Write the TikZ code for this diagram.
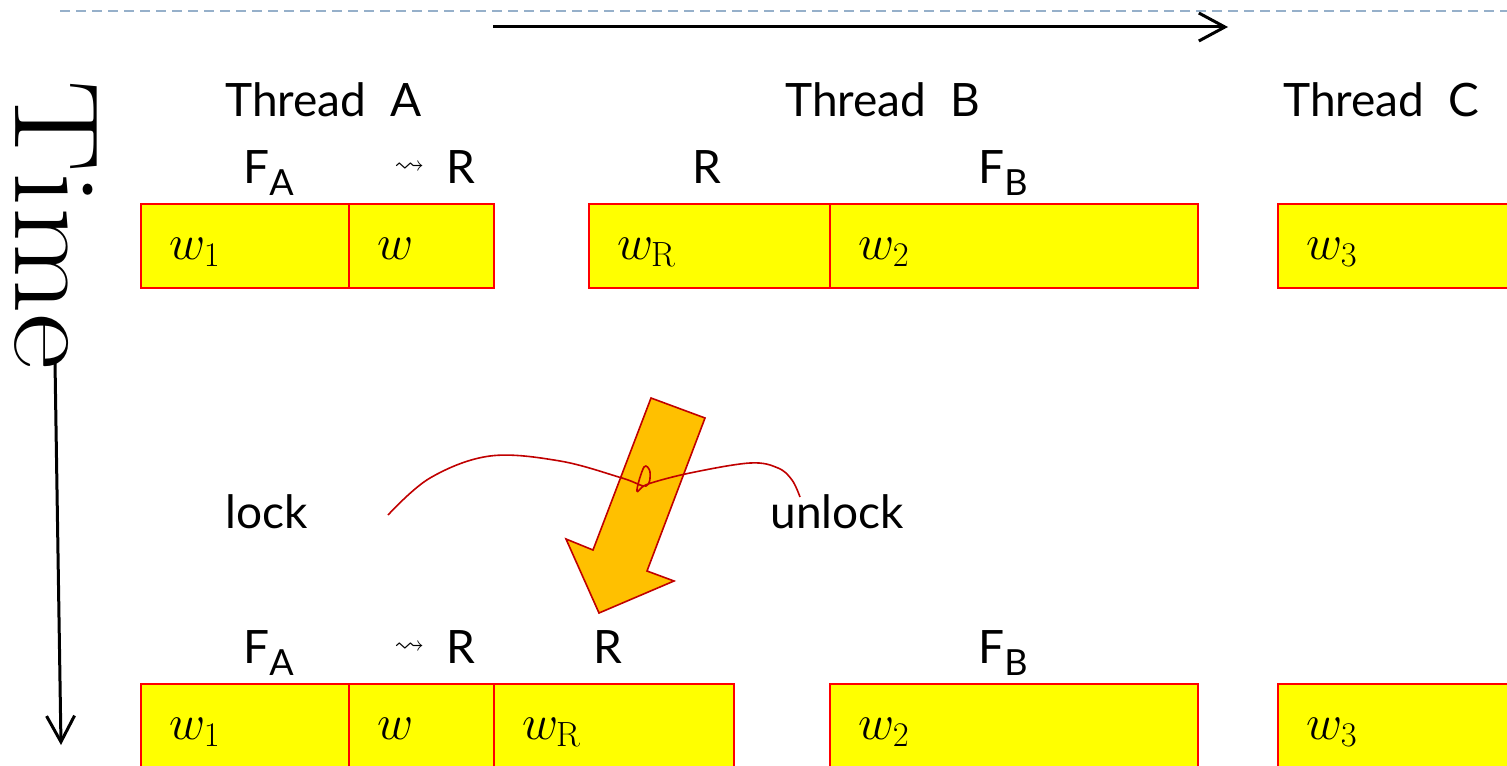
\documentclass[tikz,border=0pt]{standalone}
\usepackage{fontspec}
\usepackage{amssymb}
\usetikzlibrary{arrows.meta}
\newfontfamily\slidefont{Lato}
\definecolor{slideyellow}{RGB}{255,255,0}
\definecolor{slidered}{RGB}{255,0,0}
\definecolor{lockorange}{RGB}{255,192,0}
\definecolor{lockred}{RGB}{192,0,0}
\definecolor{ruleblue}{RGB}{150,176,202}
\newcommand{\wiggle}{\raisebox{5pt}{\fontsize{15}{16}\selectfont$\rightsquigarrow$}\hspace{11pt}}
\newcommand{\subA}[2]{#1\raisebox{-6pt}{\fontsize{18}{20}\selectfont #2}}
\tikzset{
  wbox/.style={draw=slidered, fill=slideyellow, line width=1pt, anchor=north west,
               minimum height=42pt, inner xsep=14pt, text width=#1, align=left,
               text height=16pt, text depth=3pt, font=\fontsize{25}{30}\selectfont},
  lbl/.style={anchor=base west, inner sep=0pt, font=\slidefont\fontsize{23}{28}\selectfont},
  timearrow/.style={line width=1.5pt, -{Straight Barb[length=13pt,width=14pt]}},
  lockarrow/.style={draw=lockred, fill=lockorange, line width=0.8pt, line join=miter},
  lockline/.style={draw=lockred, line width=0.8pt},
}
\begin{document}
\begin{tikzpicture}[x=0.5pt, y=-0.5pt]
  \useasboundingbox (0,0) rectangle (1507,765);
  % slide rule and time axes
  \draw[ruleblue, line width=1pt, dash pattern=on 5pt off 3pt] (60,11) -- (1507,11);
  \coordinate (xstart) at (493,27);
  \coordinate (xend) at (1228,27);
  \draw[timearrow] (xstart) -- (xend);
  \node[rotate=-90, anchor=base west, inner sep=0pt, font=\fontsize{69}{72}\selectfont] (time) at (15,80) {\scalebox{1}[0.87]{Time}};
  \coordinate (yend) at (61,745);
  \draw[timearrow] (55,362) -- (yend);

  % thread names
  \node[lbl] (thra) at (225,117) {Thread\ \ A};
  \node[lbl] (thrb) at (785,117) {Thread\ \ B};
  \node[lbl] (thrc) at (1283,117) {Thread\ \ C};

  % before
  \node[lbl] (fa1) at (243,183) {\subA{F}{A}};
  \node[lbl] (ra1) at (394,183) {\wiggle R};
  \node[lbl] (rb1) at (692,183) {R};
  \node[lbl] (fb1) at (978,183) {\subA{F}{B}};
  \node[wbox=76pt] (ta1) at (140,203) {$w_1$};
  \node[wbox=44.5pt] (ta2) at (348,203) {$w$};
  \node[wbox=92.5pt] (tb1) at (588,203) {$w_{\mathrm{R}}$};
  \node[wbox=156pt] (tb2) at (829,203) {$w_2$};
  \node[wbox=92pt] (tc1) at (1277,203) {$w_3$};

  % lock / unlock
  \node[lbl] (lock) at (225,528) {lock};
  \node[lbl] (unlock) at (770,528) {unlock};
  \draw[lockarrow] (651,398) -- (705,418) -- (647,571) -- (674,581) -- (599,613) -- (566,539) -- (593,550) -- cycle;
  \draw[lockline] plot[smooth, tension=0.6] coordinates {(388,515) (430,478) (490,456) (560,461) (622,478)
    (646,486) (650,472) (644,467) (637,491) (648,484) (690,473) (750,463) (778,468) (792,480) (800,497)};

  % after
  \node[lbl] (fa2) at (243,663) {\subA{F}{A}};
  \node[lbl] (ra2) at (394,663) {\wiggle R};
  \node[lbl] (rb2) at (593,663) {R};
  \node[lbl] (fb2) at (978,663) {\subA{F}{B}};
  \node[wbox=76pt] (ta3) at (140,683) {$w_1$};
  \node[wbox=44.5pt] (ta4) at (348,683) {$w$};
  \node[wbox=92pt] (ta5) at (493,683) {$w_{\mathrm{R}}$};
  \node[wbox=156pt] (tb3) at (829,683) {$w_2$};
  \node[wbox=92pt] (tc2) at (1277,683) {$w_3$};
\end{tikzpicture}
\end{document}
